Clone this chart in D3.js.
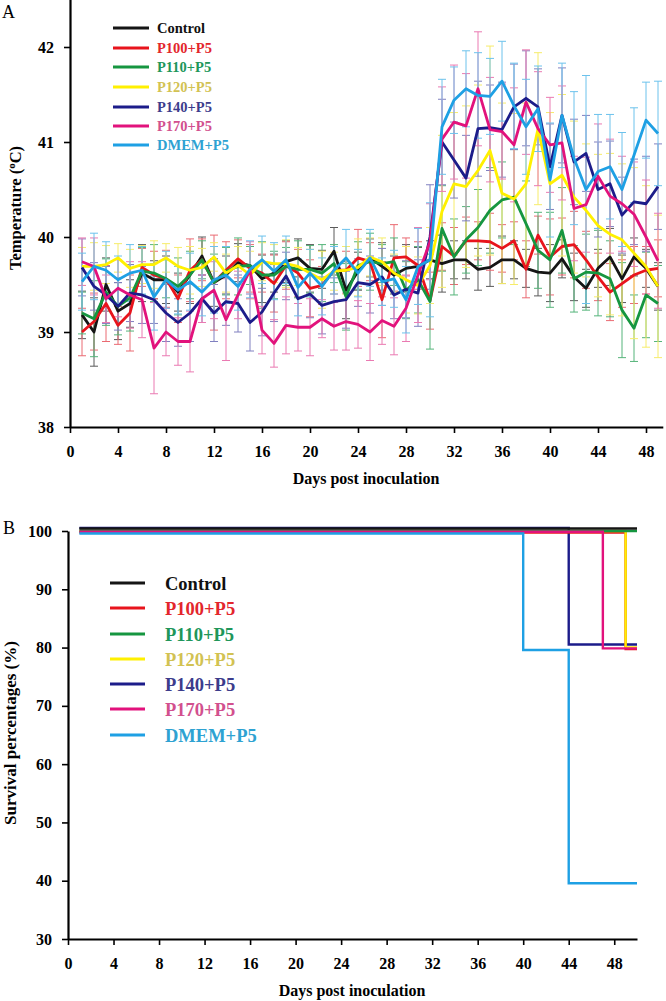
<!DOCTYPE html>
<html><head><meta charset="utf-8">
<script src="https://cdn.jsdelivr.net/npm/d3@7"></script>
<style>
body{margin:0;background:#fff;}
svg text{font-family:"Liberation Serif","Times New Roman",serif;}
</style></head>
<body>
<script>
// ---------- DATA ----------
const seriesNames = ["Control","P100+P5","P110+P5","P120+P5","P140+P5","P170+P5","DMEM+P5"];
const days = [1,2,3,4,5,6,7,8,9,10,11,12,13,14,15,16,17,18,19,20,21,22,23,24,25,26,27,28,29,30,31,32,33,34,35,36,37,38,39,40,41,42,43,44,45,46,47,48,49];

const tempControl = [39.18,39.00,39.50,39.22,39.30,39.62,39.55,39.55,39.42,39.60,39.80,39.52,39.60,39.73,39.70,39.56,39.62,39.74,39.78,39.67,39.66,39.85,39.44,39.64,39.78,39.69,39.60,39.67,39.69,39.76,39.72,39.76,39.76,39.66,39.68,39.76,39.76,39.67,39.63,39.62,39.77,39.58,39.46,39.67,39.79,39.56,39.79,39.67,39.48];
const tempP100 = [39.00,39.11,39.30,39.07,39.20,39.68,39.60,39.56,39.35,39.65,39.76,39.52,39.65,39.77,39.67,39.62,39.51,39.70,39.62,39.46,39.49,39.65,39.65,39.78,39.74,39.34,39.78,39.79,39.70,39.33,39.90,39.80,39.96,39.96,39.95,39.88,39.96,39.66,40.02,39.79,39.90,39.92,39.76,39.58,39.42,39.51,39.60,39.65,39.67];
const tempP110 = [39.20,39.14,39.42,39.27,39.36,39.64,39.62,39.56,39.48,39.60,39.76,39.52,39.64,39.69,39.70,39.60,39.60,39.69,39.66,39.66,39.62,39.72,39.37,39.70,39.74,39.72,39.74,39.44,39.55,39.32,40.09,39.79,39.97,40.10,40.28,40.39,40.42,40.14,39.86,39.76,40.07,39.56,39.63,39.62,39.56,39.23,39.04,39.39,39.30];
const tempP120 = [39.69,39.69,39.71,39.78,39.67,39.71,39.71,39.78,39.69,39.65,39.68,39.79,39.62,39.70,39.60,39.74,39.72,39.72,39.69,39.62,39.55,39.64,39.65,39.68,39.79,39.74,39.62,39.55,39.49,39.70,40.27,40.56,40.53,40.70,40.91,40.46,40.40,40.56,41.14,40.56,40.65,40.42,40.28,40.12,40.03,39.97,39.83,39.69,39.48];
const tempP140 = [39.68,39.48,39.39,39.27,39.41,39.39,39.34,39.20,39.10,39.20,39.35,39.20,39.32,39.30,39.10,39.21,39.41,39.59,39.35,39.40,39.28,39.32,39.34,39.52,39.50,39.58,39.39,39.45,39.41,40.00,41.00,40.81,40.62,41.14,41.15,41.13,41.37,41.46,41.37,40.74,41.28,40.79,40.88,40.50,40.56,40.23,40.37,40.35,40.53];
const tempP170 = [39.74,39.69,39.35,39.46,39.39,39.34,38.83,39.00,38.90,38.90,39.35,39.44,39.13,39.39,39.65,39.02,38.88,39.07,39.05,39.05,39.14,39.06,39.11,39.08,39.00,39.12,39.06,39.25,39.60,39.95,41.03,41.21,41.17,41.56,41.13,41.11,40.97,41.42,41.14,40.97,40.99,40.30,40.34,40.64,40.43,40.35,40.24,40.00,39.75];
const tempDMEM = [39.53,39.69,39.65,39.55,39.62,39.65,39.37,39.55,39.44,39.53,39.42,39.55,39.60,39.48,39.66,39.76,39.64,39.76,39.47,39.62,39.48,39.65,39.78,39.62,39.78,39.53,39.56,39.34,39.69,39.76,41.16,41.44,41.56,41.49,41.48,41.64,41.38,41.16,41.35,40.60,41.28,40.83,40.50,40.69,40.74,40.50,40.86,41.23,41.09];

const errControl = [0.25,0.36,0.28,0.30,0.25,0.30,0.20,0.25,0.20,0.30,0.20,0.25,0.20,0.20,0.20,0.25,0.20,0.22,0.20,0.25,0.20,0.25,0.30,0.20,0.20,0.25,0.20,0.25,0.20,0.20,0.30,0.20,0.20,0.22,0.20,0.25,0.20,0.20,0.25,0.30,0.20,0.25,0.20,0.20,0.30,0.25,0.20,0.20,0.25];
const errP100 = [0.25,0.30,0.40,0.20,0.40,0.20,0.25,0.30,0.25,0.33,0.22,0.50,0.30,0.20,0.25,0.20,0.30,0.25,0.25,0.30,0.20,0.25,0.20,0.30,0.20,0.40,0.35,0.20,0.25,0.30,0.25,0.30,0.25,0.20,0.30,0.25,0.20,0.30,0.20,0.40,0.30,0.35,0.30,0.25,0.30,0.25,0.30,0.25,0.30];
const errP110 = [0.22,0.40,0.35,0.30,0.35,0.25,0.30,0.20,0.30,0.25,0.20,0.30,0.25,0.30,0.20,0.35,0.25,0.20,0.30,0.25,0.30,0.20,0.35,0.25,0.30,0.20,0.25,0.30,0.35,0.50,0.45,0.40,0.35,0.40,0.45,0.40,0.50,0.45,0.40,0.50,0.45,0.35,0.40,0.45,0.40,0.50,0.35,0.45,0.40];
const errP120 = [0.20,0.25,0.20,0.15,0.20,0.20,0.25,0.15,0.20,0.25,0.20,0.15,0.20,0.20,0.25,0.20,0.20,0.25,0.20,0.25,0.30,0.20,0.25,0.30,0.20,0.25,0.20,0.35,0.30,0.40,0.80,0.75,0.85,0.90,1.10,0.95,0.90,0.85,0.80,0.75,0.85,0.80,0.70,0.75,0.85,0.80,0.90,0.85,0.75];
const errP140 = [0.30,0.25,0.30,0.25,0.30,0.30,0.25,0.30,0.25,0.30,0.25,0.30,0.25,0.30,0.30,0.25,0.30,0.25,0.30,0.25,0.30,0.25,0.30,0.25,0.30,0.30,0.25,0.30,0.35,0.55,0.45,0.40,0.45,0.50,0.45,0.50,0.45,0.50,0.40,0.45,0.50,0.45,0.40,0.50,0.45,0.40,0.45,0.50,0.45];
const errP170 = [0.25,0.30,0.25,0.30,0.35,0.40,0.48,0.25,0.25,0.32,0.25,0.30,0.43,0.25,0.30,0.25,0.25,0.30,0.25,0.30,0.20,0.25,0.30,0.25,0.30,0.25,0.30,0.35,0.50,0.40,0.55,0.60,0.55,0.60,0.55,0.50,0.60,0.55,0.60,0.50,0.60,0.55,0.50,0.55,0.60,0.50,0.55,0.60,0.50];
const errDMEM = [0.30,0.35,0.30,0.25,0.30,0.25,0.35,0.30,0.25,0.30,0.25,0.35,0.30,0.25,0.30,0.25,0.30,0.25,0.30,0.25,0.30,0.25,0.30,0.25,0.30,0.25,0.30,0.35,0.40,0.60,0.50,0.35,0.40,0.45,0.40,0.42,0.45,0.50,0.45,0.60,0.55,0.70,1.20,0.60,0.55,0.60,0.50,0.40,0.55];

const tempTicksX = [0,4,8,12,16,20,24,28,32,36,40,44,48];
const tempTicksY = [38,39,40,41,42];

// survival (step data: day of change, value from then on)
const survDaysControl = [1,50], survControl = [100,100];
const survDaysP100 = [1,49,50], survP100 = [100,80,80];
const survDaysP110 = [1,50], survP110 = [100,100];
const survDaysP120 = [1,49,50], survP120 = [100,80,80];
const survDaysP140 = [1,44,50], survP140 = [100,80,80];
const survDaysP170 = [1,47,50], survP170 = [100,80,80];
const survDaysDMEM = [1,40,44,50], survDMEM = [100,80,40,40];
const survTicksX = [0,4,8,12,16,20,24,28,32,36,40,44,48];
const survTicksY = [30,40,50,60,70,80,90,100];

// ---------- STYLE ----------
const lineColors = ["#151515","#e8141c","#169640","#fff000","#1c1c8a","#e2127c","#1ea0e4"];
const errColors  = ["#5a5a5a","#ea6a72","#55b47a","#f6ec6a","#8080c0","#ea7ab2","#6cc2ec"];
const textColors = ["#111111","#e3262c","#20965a","#d2c252","#3c3c8c","#d2508e","#2ea2d2"];

const temps = [tempControl,tempP100,tempP110,tempP120,tempP140,tempP170,tempDMEM];
const errs = [errControl,errP100,errP110,errP120,errP140,errP170,errDMEM];
const survDays = [survDaysControl,survDaysP100,survDaysP110,survDaysP120,survDaysP140,survDaysP170,survDaysDMEM];
const survVals = [survControl,survP100,survP110,survP120,survP140,survP170,survDMEM];

const svg = d3.select("body").append("svg").attr("width",666).attr("height",1001);
const FONT = '"Liberation Serif","Times New Roman",serif';

function styleAxis(g, fs){
  g.selectAll(".domain").attr("stroke","#000").attr("stroke-width",2.2);
  g.selectAll(".tick line").attr("stroke","#000").attr("stroke-width",1.6);
  g.selectAll(".tick text").attr("font-family",FONT).attr("font-weight","bold").attr("font-size",fs).attr("fill","#000");
}

// ---------- CHART A ----------
const xA = d3.scaleLinear().domain([0,49.4]).range([70,662.8]);
const yA = d3.scaleLinear().domain([38,42.5]).range([427,-0.5]);

const gxA = svg.append("g").attr("transform","translate(0,427)")
  .call(d3.axisBottom(xA).tickValues(tempTicksX).tickFormat(d3.format("d")).tickSize(6).tickPadding(13).tickSizeOuter(0));
styleAxis(gxA,16);
const gyA = svg.append("g").attr("transform","translate(70,0)")
  .call(d3.axisLeft(yA).tickValues(tempTicksY).tickFormat(d3.format("d")).tickSize(6).tickPadding(10).tickSizeOuter(0));
styleAxis(gyA,16);

// error bars
temps.forEach((s,i)=>{
  const g = svg.append("g").attr("stroke",errColors[i]).attr("stroke-width",1).attr("fill","none");
  s.forEach((v,j)=>{
    const x = xA(days[j]), y1 = yA(v+errs[i][j]), y2 = yA(v-errs[i][j]);
    g.append("line").attr("x1",x).attr("x2",x).attr("y1",y1).attr("y2",y2);
    g.append("line").attr("x1",x-4).attr("x2",x+4).attr("y1",y1).attr("y2",y1);
    g.append("line").attr("x1",x-4).attr("x2",x+4).attr("y1",y2).attr("y2",y2);
  });
});
// lines
const lineA = d3.line().x((d,j)=>xA(days[j])).y(d=>yA(d));
temps.forEach((s,i)=>{
  svg.append("path").datum(s).attr("d",lineA).attr("fill","none")
    .attr("stroke",lineColors[i]).attr("stroke-width",2.8).attr("stroke-linejoin","round");
});

// labels A
svg.append("text").attr("x",2).attr("y",18).attr("font-family",FONT).attr("font-size",18).text("A");
svg.append("text").attr("x",366).attr("y",484).attr("text-anchor","middle")
  .attr("font-family",FONT).attr("font-weight","bold").attr("font-size",16).text("Days post inoculation");
const yl = svg.append("text").attr("transform","translate(21,208) rotate(-90)").attr("text-anchor","middle")
  .attr("font-family",FONT).attr("font-weight","bold").attr("font-size",16.5);
yl.append("tspan").text("Temperature (");
yl.append("tspan").attr("font-size",11).attr("dy",-6).text("o");
yl.append("tspan").attr("dy",6).text("C)");

// legend A
const legA = [28,48,67,87,107,126,145];
seriesNames.forEach((n,i)=>{
  svg.append("line").attr("x1",113).attr("x2",149).attr("y1",legA[i]).attr("y2",legA[i])
    .attr("stroke",lineColors[i]).attr("stroke-width",3);
  svg.append("text").attr("x",157).attr("y",legA[i]+5).attr("font-family",FONT)
    .attr("font-weight","bold").attr("font-size",14.5).attr("fill",textColors[i]).text(n);
});

// ---------- CHART B ----------
const xB = d3.scaleLinear().domain([0,50]).range([68,637]);
const yB = d3.scaleLinear().domain([30,100]).range([939,531]);

const gxB = svg.append("g").attr("transform","translate(0,939)")
  .call(d3.axisBottom(xB).tickValues(survTicksX).tickFormat(d3.format("d")).tickSize(6).tickPadding(13).tickSizeOuter(0));
styleAxis(gxB,16);
const gyB = svg.append("g").attr("transform","translate(68,0)")
  .call(d3.axisLeft(yB).tickValues(survTicksY).tickFormat(d3.format("d")).tickSize(6).tickPadding(10).tickSizeOuter(0));
styleAxis(gyB,16);

const survOffset = [-2.5,1.5,0,0,-3,0.8,2.5];
const drawOrder = [4,1,3,2,5,6,0];
drawOrder.forEach(i=>{
  const pts = survDays[i].map((d,j)=>[d,survVals[i][j]]);
  const ln = d3.line().curve(d3.curveStepAfter).x(d=>xB(d[0])).y(d=>yB(d[1])+survOffset[i]);
  svg.append("path").datum(pts).attr("d",ln).attr("fill","none")
    .attr("stroke",lineColors[i]).attr("stroke-width",2.4);
});

svg.append("text").attr("x",3).attr("y",534).attr("font-family",FONT).attr("font-size",18).text("B");
svg.append("text").attr("x",352).attr("y",996).attr("text-anchor","middle")
  .attr("font-family",FONT).attr("font-weight","bold").attr("font-size",16).text("Days post inoculation");
svg.append("text").attr("transform","translate(16,733) rotate(-90)").attr("text-anchor","middle")
  .attr("font-family",FONT).attr("font-weight","bold").attr("font-size",17).text("Survival percentages (%)");

const legB = [583,608,634,659,684,709,735];
seriesNames.forEach((n,i)=>{
  svg.append("line").attr("x1",110).attr("x2",145).attr("y1",legB[i]).attr("y2",legB[i])
    .attr("stroke",lineColors[i]).attr("stroke-width",3);
  svg.append("text").attr("x",165).attr("y",legB[i]+6.5).attr("font-family",FONT)
    .attr("font-weight","bold").attr("font-size",18.5).attr("fill",textColors[i]).text(n);
});
</script>
</body></html>
